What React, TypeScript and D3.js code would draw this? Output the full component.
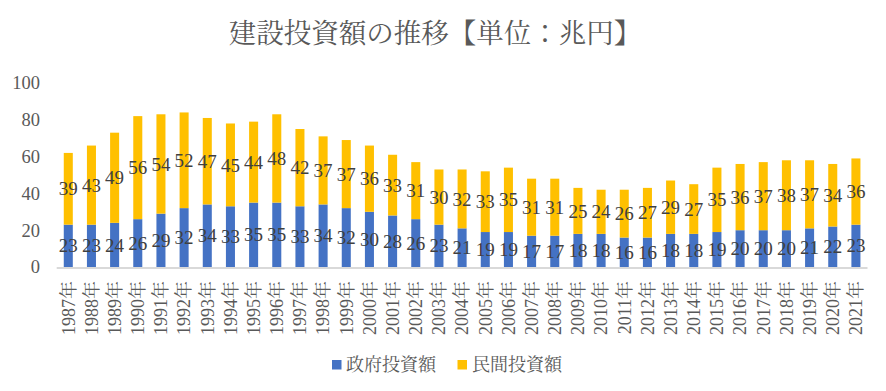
import React from "react";
import * as d3 from "d3";

const years = [
  "1987年","1988年","1989年","1990年","1991年","1992年","1993年","1994年","1995年","1996年",
  "1997年","1998年","1999年","2000年","2001年","2002年","2003年","2004年","2005年","2006年",
  "2007年","2008年","2009年","2010年","2011年","2012年","2013年","2014年","2015年","2016年",
  "2017年","2018年","2019年","2020年","2021年",
];
const government = [23,23,24,26,29,32,34,33,35,35,33,34,32,30,28,26,23,21,19,19,17,17,18,18,16,16,18,18,19,20,20,20,21,22,23];
const privateInv = [39,43,49,56,54,52,47,45,44,48,42,37,37,36,33,31,30,32,33,35,31,31,25,24,26,27,29,27,35,36,37,38,37,34,36];
const yTicks = [0, 20, 40, 60, 80, 100];
const seriesNames = ["政府投資額", "民間投資額"];
const colors = ["#4472C4", "#FFC000"];
const title = "建設投資額の推移【単位：兆円】";

const W = 886;
const H = 391;
const LAT = '"Liberation Serif"';
const CJK = '"Noto Serif CJK JP"';

export default function App() {
  const x = d3.scaleBand<string>().domain(years).range([56.7, 867.5]).paddingInner(0.61).paddingOuter(0.305);
  const y = d3.scaleLinear().domain([0, 100]).range([267, 83]);
  const bw = x.bandwidth();

  return (
    <svg width={W} height={H} style={{ position: "absolute", left: 0, top: 0, background: "#fff" }}>
      <text x={435} y={43} textAnchor="middle" fontSize={27.5} fill="#595959" style={{ fontFamily: CJK }}>{title}</text>
      {yTicks.map((t) => (
        <text key={t} x={40} y={y(t)} dy="0.35em" textAnchor="end" fontSize={18.5} fill="#595959" style={{ fontFamily: LAT }}>{t}</text>
      ))}
      {years.map((yr, i) => {
        const g = government[i];
        const p = privateInv[i];
        const bx = x(yr)!;
        return (
          <g key={yr}>
            <rect x={bx} y={y(g)} width={bw} height={y(0) - y(g)} fill={colors[0]} />
            <rect x={bx} y={y(g + p)} width={bw} height={y(g) - y(g + p)} fill={colors[1]} />
          </g>
        );
      })}
      <line x1={56.7} x2={867.5} y1={y(0) + 1} y2={y(0) + 1} stroke="#D9D9D9" strokeWidth={2} />
      {years.map((yr, i) => {
        const g = government[i];
        const p = privateInv[i];
        const cx = x(yr)! + bw / 2;
        return (
          <g key={"l" + yr} fontSize={19} fill="#404040" textAnchor="middle">
            <text x={cx} y={(y(0) + y(g)) / 2} dy="0.35em" style={{ fontFamily: LAT }}>{g}</text>
            <text x={cx} y={(y(g) + y(g + p)) / 2} dy="0.35em" style={{ fontFamily: LAT }}>{p}</text>
          </g>
        );
      })}
      {years.map((yr) => {
        const cx = x(yr)! + bw / 2;
        const num = yr.slice(0, -1);
        const suf = yr.slice(-1);
        return (
          <text key={"x" + yr} transform={`translate(${cx},281) rotate(-90)`} textAnchor="end" dy="0.35em" fontSize={18} fill="#595959">
            <tspan style={{ fontFamily: LAT }}>{num}</tspan>
            <tspan style={{ fontFamily: CJK }}>{suf}</tspan>
          </text>
        );
      })}
      <g fontSize={18} fill="#595959">
        <rect x={332} y={360} width={9.5} height={9.5} fill={colors[0]} />
        <text x={346} y={365} dy="0.35em" style={{ fontFamily: CJK }}>{seriesNames[0]}</text>
        <rect x={457.5} y={360} width={9.5} height={9.5} fill={colors[1]} />
        <text x={472} y={365} dy="0.35em" style={{ fontFamily: CJK }}>{seriesNames[1]}</text>
      </g>
    </svg>
  );
}
